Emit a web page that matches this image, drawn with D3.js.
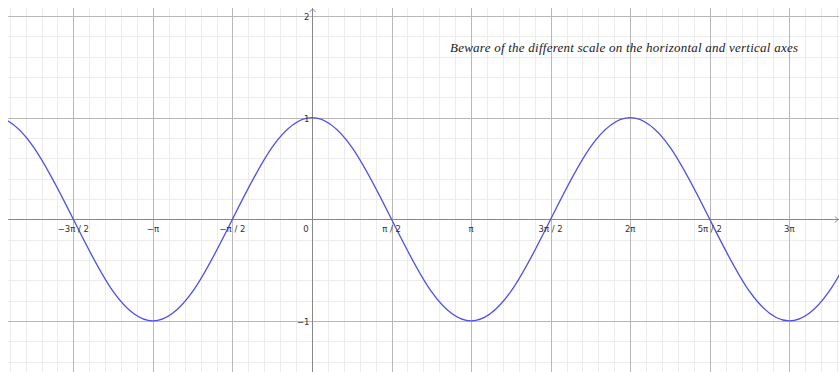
<!DOCTYPE html>
<html>
<head>
<meta charset="utf-8">
<script src="https://cdn.jsdelivr.net/npm/d3@7"></script>
<style>
  body { margin: 0; background: #fff; }
  .tick-label { font-family: "DejaVu Sans", sans-serif; font-size: 8.5px; fill: #333; }
  .note { font-family: "Liberation Serif", serif; font-style: italic; font-size: 13px; fill: #1a1a1a; }
</style>
</head>
<body>
<div id="chart"></div>
<script>
// x values are in multiples of π
const xTicks = [-1.5, -1, -0.5, 0, 0.5, 1, 1.5, 2, 2.5, 3];
const xTickLabels = ["−3π / 2", "−π", "−π / 2", "0", "π / 2", "π", "3π / 2", "2π", "5π / 2", "3π"];
const yTicks = [-1, 1, 2];
const yTickLabels = ["−1", "1", "2"];

// curve samples, every π/4
const curveX = [-2.25, -2, -1.75, -1.5, -1.25, -1, -0.75, -0.5, -0.25, 0, 0.25, 0.5, 0.75,
  1, 1.25, 1.5, 1.75, 2, 2.25, 2.5, 2.75, 3, 3.25, 3.5, 3.75];
const curveY = [0.71, 1, 0.71, 0, -0.71, -1, -0.71, 0, 0.71, 1, 0.71, 0, -0.71,
  -1, -0.71, 0, 0.71, 1, 0.71, 0, -0.71, -1, -0.71, 0, 0.71];

const noteText = "Beware of the different scale on the horizontal and vertical axes";

const config = {
  width: 839,
  height: 372,
  plot: { left: 8, top: 8, right: 839, bottom: 372 },
};

const svg = d3.select("#chart")
  .append("svg")
  .attr("width", config.width)
  .attr("height", config.height);

// 0 sits at x=312, π/2 every 79.55px; y: 1 unit = 101.67px, 0 at y=219.3
const x = d3.scaleLinear().domain([0, 0.5]).range([312, 391.55]);
const y = d3.scaleLinear().domain([0, 1]).range([219.3, 117.63]);

const p = config.plot;
const xMin = x.invert(p.left), xMax = x.invert(p.right);
const yMin = y.invert(p.bottom), yMax = y.invert(p.top);

svg.append("defs").append("clipPath").attr("id", "plot-clip")
  .append("rect")
  .attr("x", p.left).attr("y", p.top)
  .attr("width", p.right - p.left).attr("height", p.bottom - p.top);

const grid = svg.append("g").attr("clip-path", "url(#plot-clip)");

// minor grid: π/10 horizontally, 0.2 vertically
const minorX = d3.range(Math.ceil(xMin * 10), Math.floor(xMax * 10) + 1).map(k => k / 10);
const minorY = d3.range(Math.ceil(yMin * 5), Math.floor(yMax * 5) + 1).map(k => k / 5);
const majorX = d3.range(Math.ceil(xMin * 2), Math.floor(xMax * 2) + 1).map(k => k / 2);
const majorY = d3.range(Math.ceil(yMin), Math.floor(yMax) + 1);

grid.selectAll("line.minor-x")
  .data(minorX)
  .join("line")
  .attr("class", "minor-x")
  .attr("x1", d => Math.round(x(d)) + 0.5).attr("x2", d => Math.round(x(d)) + 0.5)
  .attr("y1", p.top).attr("y2", p.bottom)
  .attr("stroke", "#ececec");

grid.selectAll("line.minor-y")
  .data(minorY)
  .join("line")
  .attr("class", "minor-y")
  .attr("y1", d => Math.round(y(d)) + 0.5).attr("y2", d => Math.round(y(d)) + 0.5)
  .attr("x1", p.left).attr("x2", p.right)
  .attr("stroke", "#ececec");

grid.selectAll("line.major-x")
  .data(majorX)
  .join("line")
  .attr("class", "major-x")
  .attr("x1", d => Math.round(x(d)) + 0.5).attr("x2", d => Math.round(x(d)) + 0.5)
  .attr("y1", p.top).attr("y2", p.bottom)
  .attr("stroke", "#b8b8b8");

grid.selectAll("line.major-y")
  .data(majorY)
  .join("line")
  .attr("class", "major-y")
  .attr("y1", d => Math.round(y(d)) + 0.5).attr("y2", d => Math.round(y(d)) + 0.5)
  .attr("x1", p.left).attr("x2", p.right)
  .attr("stroke", "#b8b8b8");

// axes
const ax0 = Math.round(x(0)) + 0.5, ay0 = Math.round(y(0)) + 0.5;
const axes = svg.append("g").attr("stroke", "#888").attr("fill", "none");
axes.append("line").attr("x1", p.left).attr("x2", p.right).attr("y1", ay0).attr("y2", ay0);
axes.append("line").attr("x1", ax0).attr("x2", ax0).attr("y1", p.top).attr("y2", p.bottom);
axes.append("path").attr("d", `M${ax0 - 3},${p.top + 4}L${ax0},${p.top + 1}L${ax0 + 3},${p.top + 4}`);
axes.append("path").attr("d", `M${p.right - 4},${ay0 - 3}L${p.right - 1},${ay0}L${p.right - 4},${ay0 + 3}`);

// curve
const pts = curveX.map((d, i) => [d, curveY[i]]);
svg.append("path")
  .datum(pts)
  .attr("clip-path", "url(#plot-clip)")
  .attr("d", d3.line().x(d => x(d[0])).y(d => y(d[1])).curve(d3.curveNatural))
  .attr("fill", "none")
  .attr("stroke", "#4f4fe6")
  .attr("stroke-width", 1.3);

// tick labels
svg.selectAll("text.x-label")
  .data(xTicks)
  .join("text")
  .attr("class", "tick-label x-label")
  .attr("x", d => d === 0 ? x(d) - 6 : x(d))
  .attr("y", ay0 + 12)
  .attr("text-anchor", "middle")
  .text((d, i) => xTickLabels[i]);

svg.selectAll("text.y-label")
  .data(yTicks)
  .join("text")
  .attr("class", "tick-label y-label")
  .attr("x", ax0 - 3)
  .attr("y", d => y(d) + 4)
  .attr("text-anchor", "end")
  .text((d, i) => yTickLabels[i]);

svg.append("text")
  .attr("class", "note")
  .attr("x", 450)
  .attr("y", 52)
  .attr("textLength", 348)
  .attr("lengthAdjust", "spacing")
  .text(noteText);
</script>
</body>
</html>
